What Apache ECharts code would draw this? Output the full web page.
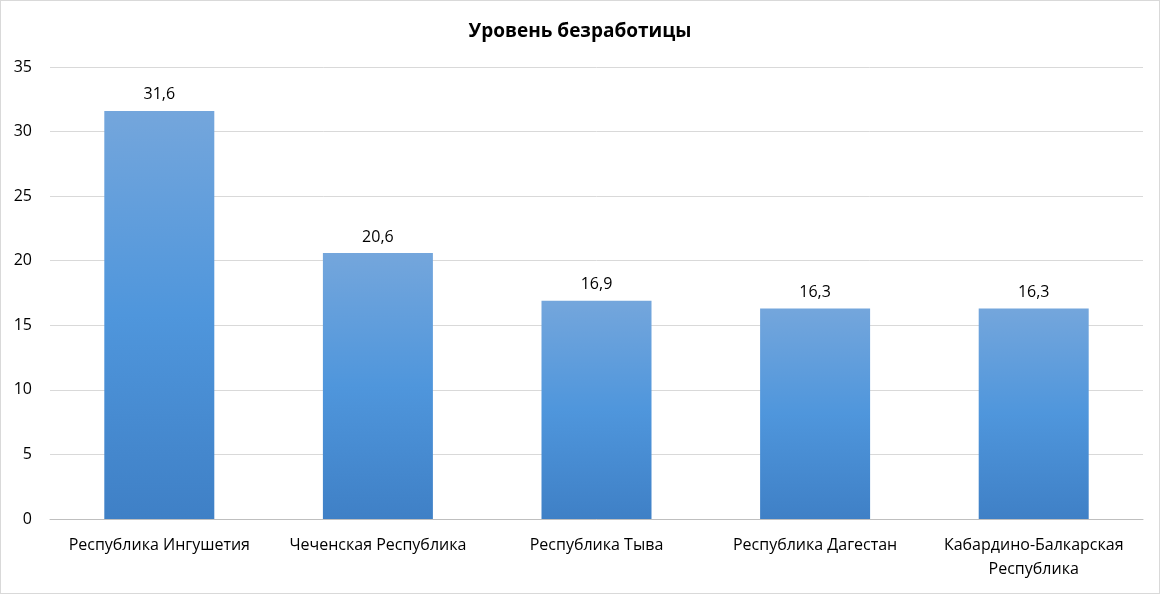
<!DOCTYPE html>
<html>
<head>
<meta charset="utf-8">
<script src="https://cdn.jsdelivr.net/npm/echarts@6/dist/echarts.min.js"></script>
<style>
  html, body { margin: 0; padding: 0; background: #fff; }
  #chart { width: 1160px; height: 594px; box-sizing: border-box; border: 1px solid #d9d9d9; }
</style>
</head>
<body>
<div id="chart"></div>
<script>
// Data
const regions = ['Республика Ингушетия', 'Чеченская Республика', 'Республика Тыва', 'Республика Дагестан', 'Кабардино-Балкарская\nРеспублика'];
const unemployment = [31.6, 20.6, 16.9, 16.3, 16.3];
const yTicks = [0, 5, 10, 15, 20, 25, 30, 35];

const font = '"Open Sans", "Noto Sans", sans-serif';
const chart = echarts.init(document.getElementById('chart'));

chart.setOption({
    backgroundColor: '#fff',
    title: {
        text: 'Уровень безработицы',
        left: 'center',
        top: 16,
        textStyle: { fontFamily: font, fontSize: 19, fontWeight: 'bold', color: '#000' }
    },
    grid: { left: 49, right: 16, top: 66, bottom: 74 },
    xAxis: {
        type: 'category',
        data: regions,
        axisLine: { lineStyle: { color: '#bfbfbf' } },
        axisTick: { show: false },
        axisLabel: { color: '#000', fontFamily: font, fontSize: 16, interval: 0, lineHeight: 24, margin: 14 }
    },
    yAxis: {
        type: 'value',
        min: yTicks[0],
        max: yTicks[yTicks.length - 1],
        interval: 5,
        axisLine: { show: false },
        axisTick: { show: false },
        axisLabel: { color: '#000', fontFamily: font, fontSize: 16, margin: 18 },
        splitLine: { lineStyle: { color: '#d9d9d9' } }
    },
    series: [{
        type: 'bar',
        data: unemployment,
        barWidth: 110,
        itemStyle: {
            color: new echarts.graphic.LinearGradient(0, 0, 0, 1, [
                { offset: 0, color: '#74a6dc' },
                { offset: 0.5, color: '#4f96dc' },
                { offset: 1, color: '#3f80c6' }
            ])
        },
        label: {
            show: true,
            position: 'top',
            distance: 8,
            color: '#000',
            fontFamily: font,
            fontSize: 16,
            formatter: p => String(p.value).replace('.', ',')
        }
    }]
});
</script>
</body>
</html>
